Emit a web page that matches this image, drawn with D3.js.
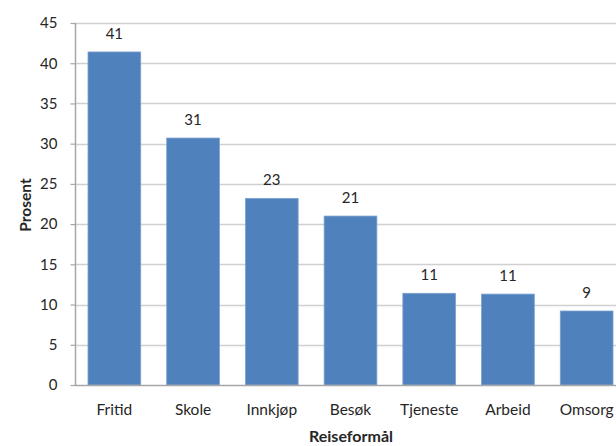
<!DOCTYPE html>
<html>
<head>
<meta charset="utf-8">
<script src="https://cdn.jsdelivr.net/npm/d3@7/dist/d3.min.js"></script>
<style>
  html, body { margin: 0; padding: 0; background: #fff; }
  svg { display: block; }
  text { font-family: Lato, "Open Sans", "Liberation Sans", sans-serif; fill: #262626; }
</style>
</head>
<body>
<svg id="chart" width="616" height="446"></svg>
<script>
// Reiseformål (trip purpose) shares, percent
const categories = ["Fritid", "Skole", "Innkjøp", "Besøk", "Tjeneste", "Arbeid", "Omsorg"];
const values = [41.4, 30.7, 23.2, 21.0, 11.4, 11.3, 9.2];
const yTicks = [0, 5, 10, 15, 20, 25, 30, 35, 40, 45];

const svg = d3.select("#chart");
const plotLeft = 75, plotRight = 626, plotTop = 23, plotBottom = 385;

const x = d3.scaleBand()
  .domain(categories)
  .range([plotLeft, plotRight])
  .paddingInner(0.33)
  .paddingOuter(0.165);

const y = d3.scaleLinear()
  .domain([0, 45])
  .range([plotBottom, plotTop]);

// horizontal gridlines
svg.append("g")
  .selectAll("line")
  .data(yTicks.filter(d => d > 0))
  .join("line")
  .attr("x1", plotLeft).attr("x2", 616)
  .attr("y1", d => Math.round(y(d)) + 0.5)
  .attr("y2", d => Math.round(y(d)) + 0.5)
  .attr("stroke", "#d0d0d0")
  .attr("stroke-width", 1.5);

// y axis
const yAxis = svg.append("g")
  .attr("transform", `translate(${plotLeft + 0.5},0)`)
  .call(d3.axisLeft(y).tickValues(yTicks).tickSize(5).tickPadding(13));
yAxis.select(".domain").attr("stroke", "#a6a6a6").attr("stroke-width", 1.5)
  .attr("d", `M0,${plotTop}V${plotBottom}`);
yAxis.selectAll(".tick line").attr("stroke", "#a6a6a6").attr("stroke-width", 1.2);
yAxis.selectAll(".tick text")
  .style("font-size", "15px")
  .style("font-family", "Lato, 'Open Sans', sans-serif")
  .attr("fill", "#262626");

// bars
svg.append("g")
  .selectAll("rect")
  .data(categories.map((c, i) => ({ c, v: values[i] })))
  .join("rect")
  .attr("x", d => x(d.c))
  .attr("width", x.bandwidth())
  .attr("y", d => y(d.v))
  .attr("height", d => y(0) - y(d.v))
  .attr("fill", "#4f81bd")
  .attr("stroke", "#7ea2d0")
  .attr("stroke-width", 0.8);

// x axis baseline
svg.append("line")
  .attr("x1", plotLeft).attr("x2", 616)
  .attr("y1", plotBottom + 0.5).attr("y2", plotBottom + 0.5)
  .attr("stroke", "#a6a6a6").attr("stroke-width", 1.5);

// value labels
svg.append("g")
  .selectAll("text")
  .data(categories.map((c, i) => ({ c, v: values[i] })))
  .join("text")
  .attr("x", d => x(d.c) + x.bandwidth() / 2)
  .attr("y", d => y(d.v) - 13)
  .attr("text-anchor", "middle")
  .style("font-size", "15px")
  .text(d => d3.format(".0f")(d.v));

// category labels
svg.append("g")
  .selectAll("text")
  .data(categories)
  .join("text")
  .attr("x", d => x(d) + x.bandwidth() / 2)
  .attr("y", 415)
  .attr("text-anchor", "middle")
  .style("font-size", "15.5px")
  .text(d => d);

// axis titles
svg.append("text")
  .attr("x", 351).attr("y", 442)
  .attr("text-anchor", "middle")
  .style("font-size", "16px")
  .style("font-weight", "bold")
  .text("Reiseformål");

svg.append("text")
  .attr("transform", "translate(31,205) rotate(-90)")
  .attr("text-anchor", "middle")
  .style("font-size", "15.5px")
  .style("font-weight", "bold")
  .text("Prosent");
</script>
</body>
</html>
